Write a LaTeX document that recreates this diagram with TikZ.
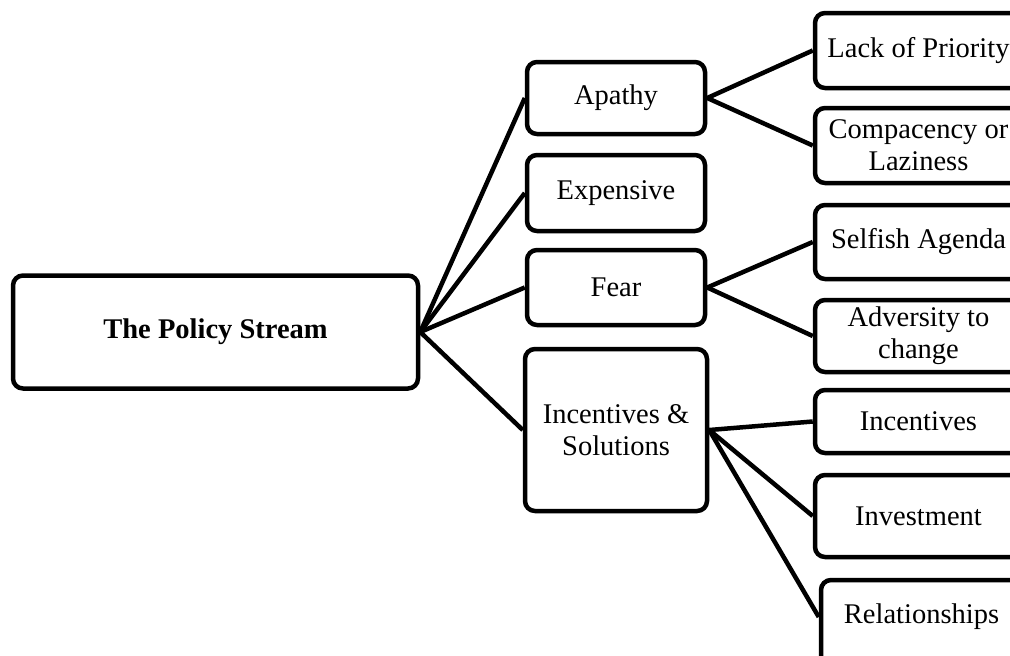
\documentclass[tikz,border=0pt]{standalone}
\usepackage{fontspec}
\setmainfont{Liberation Serif}
\usetikzlibrary{calc}
\begin{document}
\begin{tikzpicture}[x=1pt,y=-1pt,
  every node/.style={font=\fontsize{28.5}{32}\selectfont},
  box/.style={draw=black, line width=4.5pt, rounded corners=10pt, fill=white,
    inner sep=0pt, align=center},
  link/.style={draw=black, line width=4.5pt}]
\useasboundingbox (0,0) rectangle (1010,656);
\begin{scope}
\clip (0,0) rectangle (1010,656);

% root
\node[box, minimum width=405pt, minimum height=113pt] (root) at (215.5,332)
  {\textbf{The Policy Stream}};

% second level
\node[box, minimum width=178pt, minimum height=72pt] (apathy) at (616,98) {Apathy};
\node[box, minimum width=178pt, minimum height=76pt] (exp) at (616,193) {Expensive};
\node[box, minimum width=178pt, minimum height=75pt] (fear) at (616,287.5) {Fear};
\node[box, minimum width=182pt, minimum height=162pt] (incsol) at (616,430)
  {Incentives \&\\Solutions};

% third level (runs past the right and bottom edges)
\node[box, minimum width=207pt, minimum height=75pt] (lack) at (918.5,50.5) {Lack of Priority};
\node[box, minimum width=207pt, minimum height=75pt] (comp) at (918.5,145.5) {Compacency or\\Laziness};
\node[box, minimum width=207pt, minimum height=74pt] (selfish) at (918.5,242) {Selfish Agenda};
\node[box, minimum width=207pt, minimum height=72pt] (advers) at (918.5,336) {Adversity to\\change};
\node[box, minimum width=207pt, minimum height=63pt] (incent) at (918.5,421.5) {Incentives};
\node[box, minimum width=207pt, minimum height=82pt] (invest) at (918.5,516) {Investment};
\node[box, minimum width=201pt, minimum height=94pt] (relat) at (921.5,627) {};
\node (relattext) at (921.5,617) {Relationships};

% connectors
\foreach \t in {apathy, exp, fear, incsol}
  \draw[link] (root.east) -- (\t.west);
\draw[link] (apathy.east) -- (lack.west);
\draw[link] (apathy.east) -- (comp.west);
\draw[link] (fear.east) -- (selfish.west);
\draw[link] (fear.east) -- (advers.west);
\draw[link] (incsol.east) -- (incent.west);
\draw[link] (incsol.east) -- (invest.west);
\draw[link] (incsol.east) -- (relat.west |- relattext);
\end{scope}
\end{tikzpicture}
\end{document}
